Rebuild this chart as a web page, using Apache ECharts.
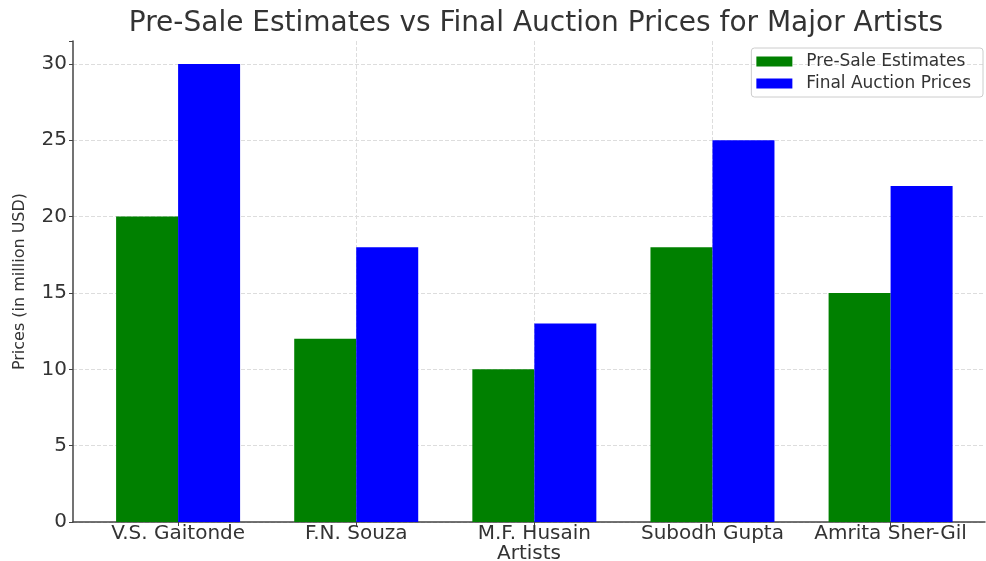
<!DOCTYPE html>
<html>
<head>
<meta charset="utf-8">
<script src="https://cdn.jsdelivr.net/npm/echarts@6/dist/echarts.min.js"></script>
<style>
  html, body { margin: 0; padding: 0; background: #fff; }
  #chart { width: 986px; height: 561px; }
</style>
</head>
<body>
<div id="chart"></div>
<script>
// data
const artists = ["V.S. Gaitonde", "F.N. Souza", "M.F. Husain", "Subodh Gupta", "Amrita Sher-Gil"];
const preSale = [20, 12, 10, 18, 15];
const finalPrice = [30, 18, 13, 25, 22];
const yTicks = [0, 5, 10, 15, 20, 25, 30];

const positions = artists.map((a, i) => i);
const font = "DejaVu Sans";

const chart = echarts.init(document.getElementById("chart"));

const option = {
  animation: false,
  textStyle: { fontFamily: font },
  title: {
    text: "Pre-Sale Estimates vs Final Auction Prices for Major Artists",
    left: 531,
    textAlign: "center",
    top: 5,
    textStyle: { fontSize: 28, fontWeight: "normal", color: "#333", fontFamily: font },
  },
  legend: {
    orient: "vertical",
    right: 3,
    top: 48,
    icon: "rect",
    itemWidth: 36,
    itemHeight: 10,
    itemGap: 5,
    padding: [5, 12, 5, 5],
    borderColor: "#ccc",
    borderWidth: 1,
    borderRadius: 3,
    textStyle: { fontSize: 17, color: "#333", fontFamily: font, padding: [0, 0, 0, 9] },
    data: ["Pre-Sale Estimates", "Final Auction Prices"],
  },
  grid: { left: 73, right: 1, top: 41, bottom: 39, outerBoundsMode: "none" },
  xAxis: {
    type: "value",
    min: -0.59,
    max: 4.53,
    name: "Artists",
    nameLocation: "middle",
    nameGap: 22,
    nameMoveOverlap: false,
    nameTextStyle: { fontSize: 20, color: "#333", fontFamily: font },
    axisLine: { show: true, onZero: false, lineStyle: { color: "#444", width: 1.5 } },
    axisTick: { show: true, customValues: positions, length: 4, lineStyle: { color: "#444" } },
    axisLabel: {
      customValues: positions,
      fontSize: 20,
      color: "#333",
      margin: 2,
      formatter: (v) => artists[Math.round(v)],
    },
    splitLine: { show: true, showMinLine: false, showMaxLine: false, lineStyle: { color: "#ddd", type: "dashed" } },
  },
  yAxis: {
    type: "value",
    min: 0,
    max: 31.5,
    interval: 5,
    name: "Prices (in million USD)",
    nameLocation: "middle",
    nameGap: 45,
    nameMoveOverlap: false,
    nameTextStyle: { fontSize: 16, color: "#333", fontFamily: font },
    axisLine: { show: true, onZero: false, lineStyle: { color: "#444", width: 1.5 } },
    axisTick: { show: true, length: 4, lineStyle: { color: "#444" } },
    axisLabel: {
      fontSize: 20,
      color: "#333",
      margin: 6,
      formatter: (v) => (yTicks.includes(v) ? String(v) : ""),
    },
    splitLine: { show: true, showMaxLine: false, lineStyle: { color: "#ddd", type: "dashed" } },
  },
  series: [
    {
      name: "Pre-Sale Estimates",
      type: "bar",
      barWidth: 62,
      barGap: "0%",
      itemStyle: { color: "#008000" },
      data: preSale.map((v, i) => [positions[i], v]),
    },
    {
      name: "Final Auction Prices",
      type: "bar",
      barWidth: 62,
      barGap: "0%",
      itemStyle: { color: "#0000ff" },
      data: finalPrice.map((v, i) => [positions[i], v]),
    },
  ],
};

chart.setOption(option);
</script>
</body>
</html>
